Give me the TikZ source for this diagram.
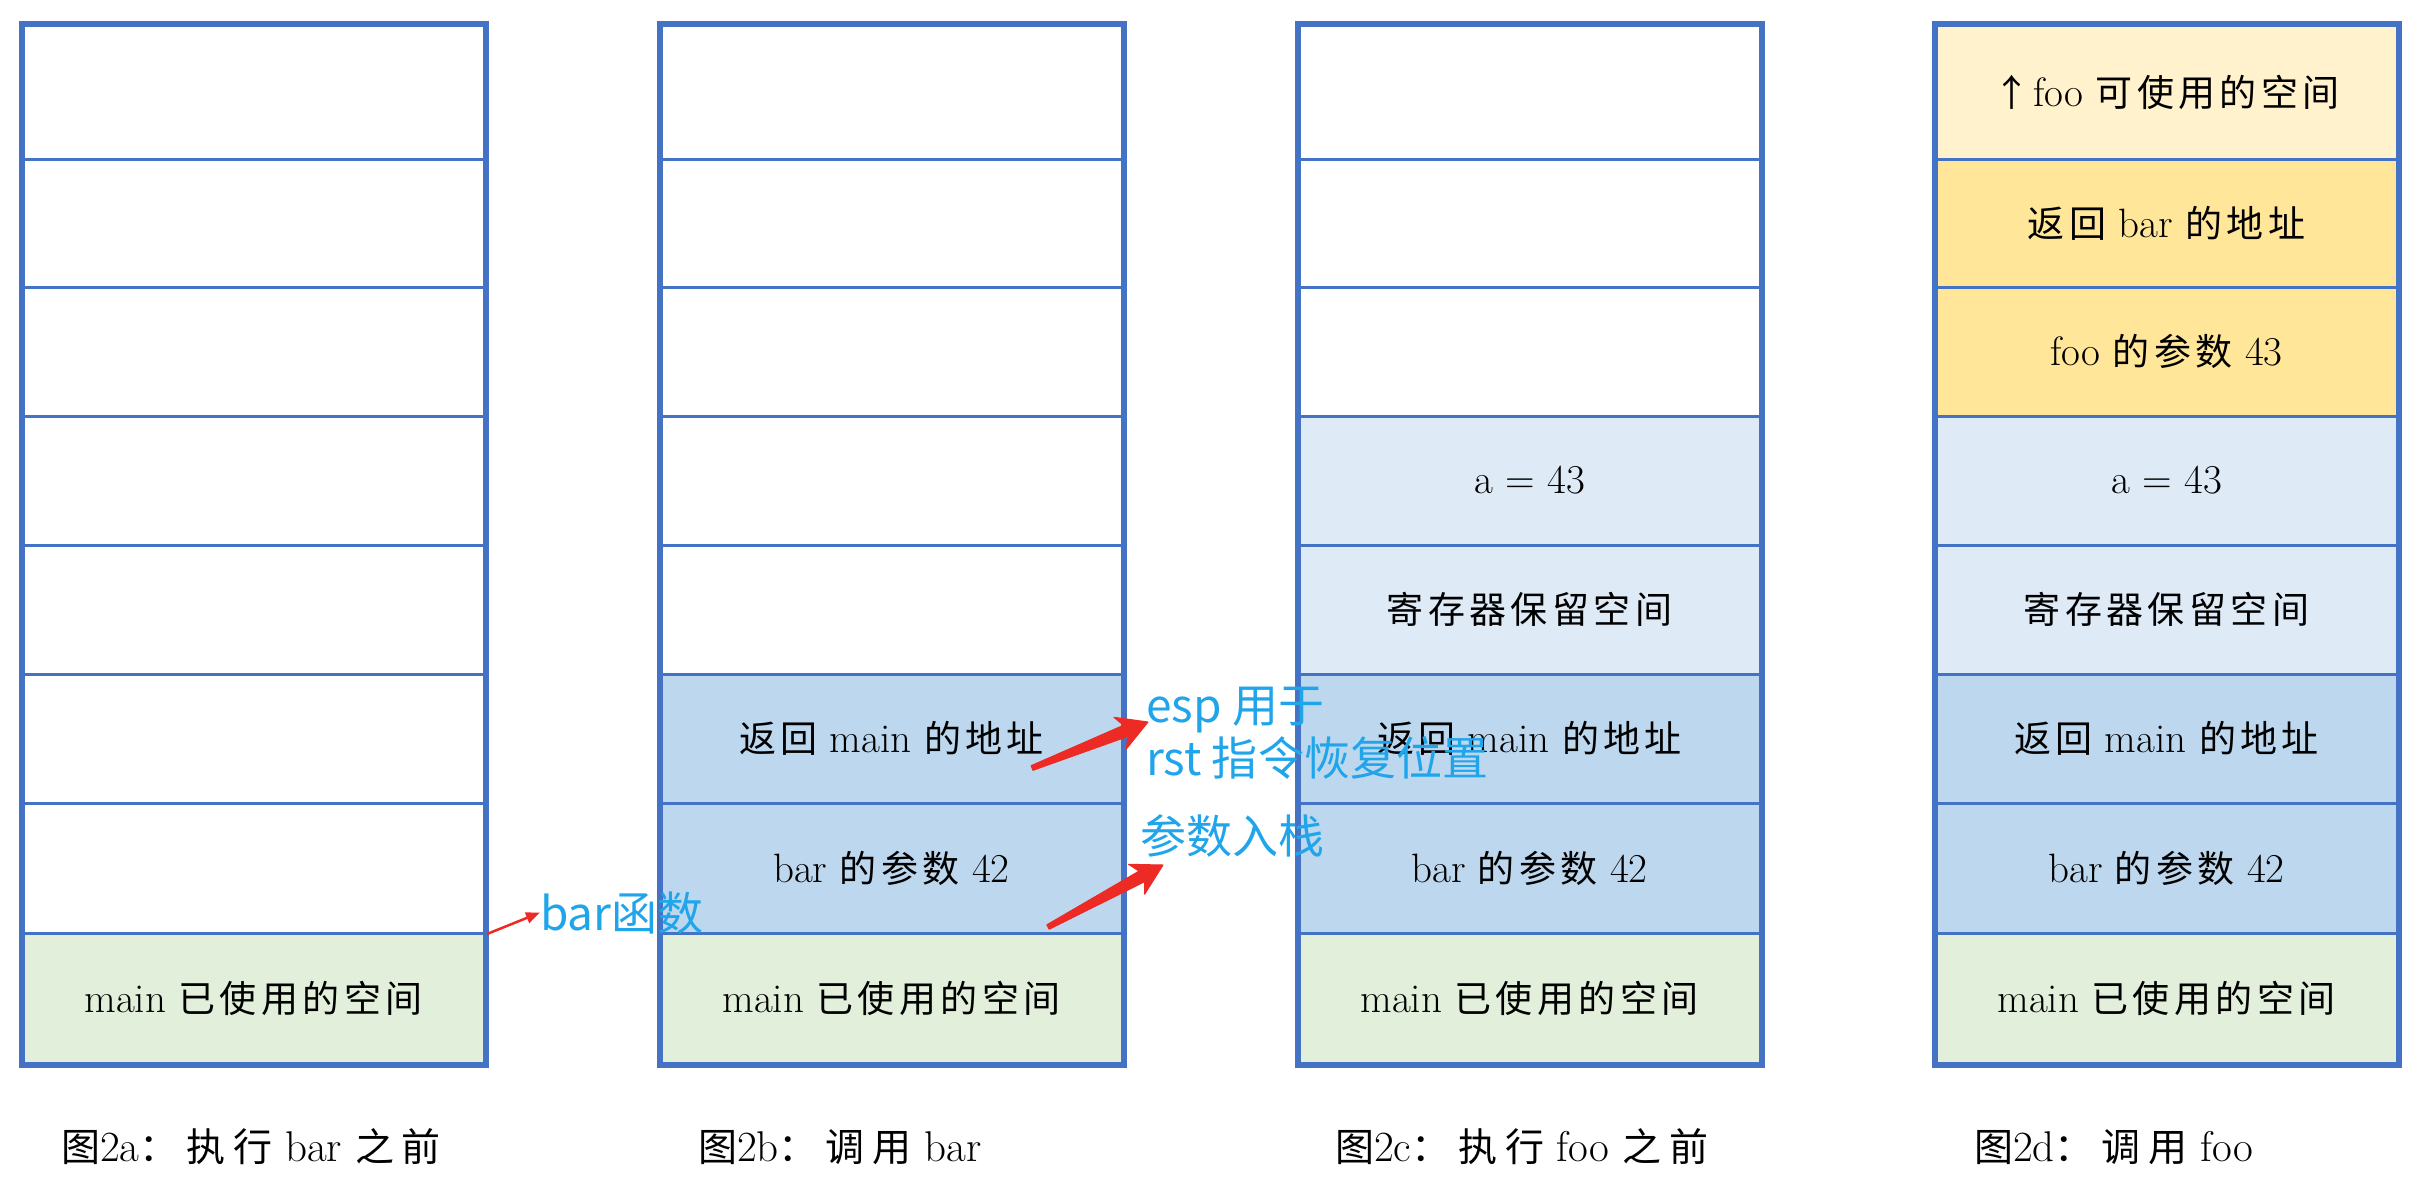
\documentclass[tikz,border=0pt]{standalone}
\usepackage{fontspec}
\newfontfamily\cjk{Noto Sans CJK SC}
\newfontfamily\cjks[LetterSpace=12]{Noto Sans CJK SC}
\newfontfamily\cjkc[LetterSpace=20]{Noto Sans CJK SC}
\usetikzlibrary{calc,arrows.meta}
\definecolor{sblue}{RGB}{68,114,196}
\definecolor{cgreen}{RGB}{226,239,218}
\definecolor{clblue}{RGB}{222,234,246}
\definecolor{cmblue}{RGB}{189,215,238}
\definecolor{clyel}{RGB}{255,242,204}
\definecolor{cyel}{RGB}{255,230,153}
\definecolor{notecyan}{RGB}{32,165,235}
\definecolor{arrred}{RGB}{238,42,36}
\newcommand\cj[1]{{\fontsize{37}{44}\selectfont\cjks #1}}
\newcommand\cc[1]{{\fontsize{39}{44}\selectfont\cjkc #1}}
\tikzset{
  cellbox/.style={draw=sblue, line width=3pt, minimum width=461pt, inner sep=0pt,
    font=\fontsize{41}{48}\selectfont, text=black},
  outerbox/.style={draw=sblue, line width=6pt},
  notetext/.style={font=\fontsize{46}{52}\selectfont\cjk, text=notecyan, inner sep=0pt, anchor=base west},
  captext/.style={font=\fontsize{43}{48}\selectfont, text=black, inner sep=0pt, anchor=base west},
  thinarrow/.style={draw=arrred, line width=2.5pt, -{Triangle[length=14pt,width=11pt]}},
  fatarrow/.style={fill=arrred, draw=arrred, line width=1pt, line join=round}
}
\newcommand\mkcell[6]{\node[cellbox,fill=#5,minimum height={(#4-#3)*1pt}] (#1) at (#2,{(#3+#4)/2}) {#6};}
\begin{document}
\begin{tikzpicture}[x=1pt,y=-1pt]
\useasboundingbox[fill=white] (0,0) rectangle (2422,1184);

% ---------- column A ----------
\mkcell{a1}{253.5}{25.5}{159}{white}{}
\mkcell{a2}{253.5}{159}{287.5}{white}{}
\mkcell{a3}{253.5}{287.5}{416}{white}{}
\mkcell{a4}{253.5}{416}{545}{white}{}
\mkcell{a5}{253.5}{545}{674}{white}{}
\mkcell{a6}{253.5}{674}{803}{white}{}
\mkcell{a7}{253.5}{803}{933.5}{white}{}
\mkcell{a8}{253.5}{933.5}{1063}{cgreen}{main \cj{已使用的空间}}
\draw[outerbox] (a1.north west) rectangle (a8.south east);

% ---------- column B ----------
\mkcell{b1}{891.5}{25.5}{159}{white}{}
\mkcell{b2}{891.5}{159}{287.5}{white}{}
\mkcell{b3}{891.5}{287.5}{416}{white}{}
\mkcell{b4}{891.5}{416}{545}{white}{}
\mkcell{b5}{891.5}{545}{674}{white}{}
\mkcell{b6}{891.5}{674}{803}{cmblue}{\cj{返回} main \cj{的地址}}
\mkcell{b7}{891.5}{803}{933.5}{cmblue}{bar \cj{的参数} 42}
\mkcell{b8}{891.5}{933.5}{1063}{cgreen}{main \cj{已使用的空间}}
\draw[outerbox] (b1.north west) rectangle (b8.south east);

% ---------- column C ----------
\mkcell{c1}{1529.5}{25.5}{159}{white}{}
\mkcell{c2}{1529.5}{159}{287.5}{white}{}
\mkcell{c3}{1529.5}{287.5}{416}{white}{}
\mkcell{c4}{1529.5}{416}{545}{clblue}{a = 43}
\mkcell{c5}{1529.5}{545}{674}{clblue}{\cj{寄存器保留空间}}
\mkcell{c6}{1529.5}{674}{803}{cmblue}{\cj{返回} main \cj{的地址}}
\mkcell{c7}{1529.5}{803}{933.5}{cmblue}{bar \cj{的参数} 42}
\mkcell{c8}{1529.5}{933.5}{1063}{cgreen}{main \cj{已使用的空间}}
\draw[outerbox] (c1.north west) rectangle (c8.south east);

% ---------- column D ----------
\mkcell{d1}{2166.5}{25.5}{159}{clyel}{{\fontsize{37}{44}\selectfont\cjk ↑}\kern3pt foo \cj{可使用的空间}}
\mkcell{d2}{2166.5}{159}{287.5}{cyel}{\cj{返回} bar \cj{的地址}}
\mkcell{d3}{2166.5}{287.5}{416}{cyel}{foo \cj{的参数} 43}
\mkcell{d4}{2166.5}{416}{545}{clblue}{a = 43}
\mkcell{d5}{2166.5}{545}{674}{clblue}{\cj{寄存器保留空间}}
\mkcell{d6}{2166.5}{674}{803}{cmblue}{\cj{返回} main \cj{的地址}}
\mkcell{d7}{2166.5}{803}{933.5}{cmblue}{bar \cj{的参数} 42}
\mkcell{d8}{2166.5}{933.5}{1063}{cgreen}{main \cj{已使用的空间}}
\draw[outerbox] (d1.north west) rectangle (d8.south east);

% ---------- captions ----------
\node[captext] (capA) at (61,1161) {\cc{图}2a\cc{：执行} bar \cc{之前}};
\node[captext] (capB) at (698,1161) {\cc{图}2b\cc{：调用} bar};
\node[captext] (capC) at (1335,1161) {\cc{图}2c\cc{：执行} foo \cc{之前}};
\node[captext] (capD) at (1974,1161) {\cc{图}2d\cc{：调用} foo};

% ---------- annotations ----------
\node[notetext] (barfn) at (540,930) {bar函数};
\node[notetext] (esp) at (1146,722) {esp 用于};
\node[notetext] (rst) at (1146,775) {rst 指令恢复位置};
\node[notetext] (push) at (1140,853) {参数入栈};

% thin arrow to "bar函数"
\coordinate (s0) at (487,934);
\draw[thinarrow] (s0) -- (barfn.west);

% fat arrow 1 (to esp)
\coordinate (s1) at (1032,768);
\coordinate (t1) at (1148,722);
\coordinate (n1) at ($(t1)!24pt!(s1)$);
\coordinate (h1) at ($(t1)!30pt!(s1)$);
\filldraw[fatarrow] ($(s1)!2.5pt!90:(t1)$) -- ($(n1)!6pt!-90:(s1)$) -- ($(h1)!17pt!-90:(s1)$)
  -- (t1) -- ($(h1)!17pt!90:(s1)$) -- ($(n1)!6pt!90:(s1)$) -- ($(s1)!2.5pt!-90:(t1)$) -- cycle;

% fat arrow 2 (to push)
\coordinate (s2) at (1048,927);
\coordinate (t2) at (1163,865);
\coordinate (n2) at ($(t2)!24pt!(s2)$);
\coordinate (h2) at ($(t2)!30pt!(s2)$);
\filldraw[fatarrow] ($(s2)!2.5pt!90:(t2)$) -- ($(n2)!6pt!-90:(s2)$) -- ($(h2)!17pt!-90:(s2)$)
  -- (t2) -- ($(h2)!17pt!90:(s2)$) -- ($(n2)!6pt!90:(s2)$) -- ($(s2)!2.5pt!-90:(t2)$) -- cycle;
\end{tikzpicture}
\end{document}
